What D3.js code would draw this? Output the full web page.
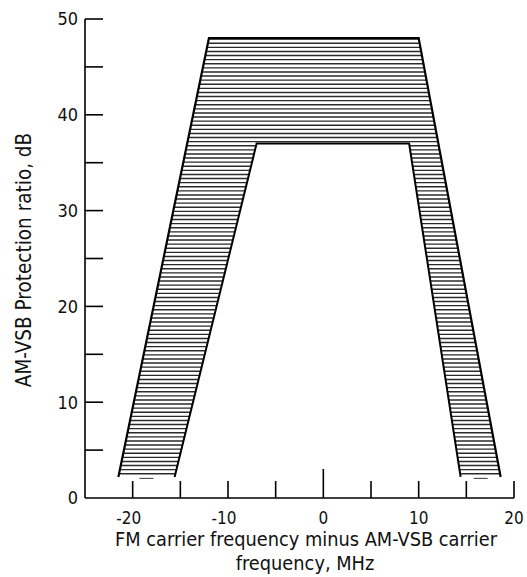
<!DOCTYPE html>
<html>
<head>
<meta charset="utf-8">
<script src="https://cdn.jsdelivr.net/npm/d3@7"></script>
<style>
  body { margin: 0; background: #fff; }
  text { font-family: "Liberation Sans Narrow", "DejaVu Sans Condensed", "Roboto Condensed", sans-serif; font-stretch: condensed; fill: #111; }
</style>
</head>
<body>
<svg id="chart"></svg>
<script>
// protection ratio band (outer and inner edges), MHz / dB
const outerX = [-21.5, -12, 10, 18.6];
const outerY = [2.2, 48, 48, 2.2];
const innerX = [-15.6, -7, 9, 14.4];
const innerY = [2.2, 37, 37, 2.2];

const xTicks = [-20, -15, -10, -5, 0, 5, 10, 15, 20];
const xTickLabels = [-20, -10, 0, 10, 20];
const yTicks = [5, 10, 15, 20, 25, 30, 35, 40, 45, 50];
const yTickLabels = [0, 10, 20, 30, 40, 50];

const width = 527, height = 577;
const margin = {top: 19, right: 13, bottom: 79, left: 85};

const svg = d3.select('#chart')
      .attr('width', width)
      .attr('height', height);

const xscale = d3.scaleLinear()
      .domain([-25, 20])
      .range([margin.left, width - margin.right]);

const yscale = d3.scaleLinear()
      .domain([0, 50])
      .range([height - margin.bottom, margin.top]);

const outer = outerX.map((x, i) => [xscale(x), yscale(outerY[i])]);
const inner = innerX.map((x, i) => [xscale(x), yscale(innerY[i])]);

// clip region = outer polygon minus inner polygon
const band = 'M' + outer.join('L') + 'Z M' + inner.join('L') + 'Z';
svg.append('defs').append('clipPath')
      .attr('id', 'band')
      .append('path')
      .attr('d', band)
      .attr('clip-rule', 'evenodd');

// horizontal hatching
const y0 = yscale(d3.max(outerY)), y1 = yscale(d3.min(outerY));
svg.append('g')
      .attr('clip-path', 'url(#band)')
      .selectAll('line')
      .data(d3.range(y0 + 1, y1 + 0.5, 4.1))
      .join('line')
      .attr('x1', margin.left)
      .attr('x2', width - margin.right)
      .attr('y1', d => d)
      .attr('y2', d => d)
      .attr('stroke', '#2a2a2a')
      .attr('stroke-width', 1.4);

// band edges
const line = d3.line();
svg.append('path')
      .attr('d', line(outer))
      .attr('fill', 'none')
      .attr('stroke', '#000')
      .attr('stroke-width', 2.2);
svg.append('path')
      .attr('d', line(inner))
      .attr('fill', 'none')
      .attr('stroke', '#000')
      .attr('stroke-width', 2);

// faint bottom dashes of the band
[[outer[0], inner[0]], [inner[3], outer[3]]].forEach(([a, b]) => {
      const m = (a[0] + b[0]) / 2;
      svg.append('line')
            .attr('x1', m - 7).attr('x2', m + 7)
            .attr('y1', a[1] + 1.5).attr('y2', a[1] + 1.5)
            .attr('stroke', '#555')
            .attr('stroke-width', 1.2);
});

// axes
const axis = svg.append('g').attr('stroke', '#000').attr('stroke-width', 1.6);
axis.append('line')
      .attr('x1', xscale(-25)).attr('x2', xscale(-25))
      .attr('y1', yscale(0)).attr('y2', yscale(50));
axis.append('line')
      .attr('x1', xscale(-25)).attr('x2', xscale(20))
      .attr('y1', yscale(0)).attr('y2', yscale(0));

axis.selectAll('.yt')
      .data(yTicks)
      .join('line')
      .attr('x1', xscale(-25)).attr('x2', xscale(-25) + 18)
      .attr('y1', d => yscale(d)).attr('y2', d => yscale(d));

axis.selectAll('.xt')
      .data(xTicks)
      .join('line')
      .attr('x1', d => xscale(d)).attr('x2', d => xscale(d))
      .attr('y1', yscale(0))
      .attr('y2', d => yscale(0) - (d === 0 ? 29 : 17));

svg.append('g')
      .selectAll('text')
      .data(yTickLabels)
      .join('text')
      .attr('x', xscale(-25) - 7)
      .attr('y', d => yscale(d))
      .attr('dy', '0.36em')
      .attr('text-anchor', 'end')
      .style('font-size', '18px')
      .text(d => d);

svg.append('g')
      .selectAll('text')
      .data(xTickLabels)
      .join('text')
      .attr('x', d => xscale(d) - (d < 0 ? 4 : 0))
      .attr('y', yscale(0) + 26)
      .attr('text-anchor', 'middle')
      .style('font-size', '17px')
      .text(d => d < 0 ? '-' + Math.abs(d) : d);

// axis titles
const xlabel = svg.append('text')
      .attr('x', 306)
      .attr('text-anchor', 'middle')
      .style('font-size', '19.8px');
xlabel.append('tspan').attr('x', 306).attr('y', 546).text('FM carrier frequency minus AM-VSB carrier');
xlabel.append('tspan').attr('x', 305).attr('y', 570).text('frequency,  MHz');

svg.append('text')
      .attr('transform', `translate(31, ${260}) rotate(-90)`)
      .attr('text-anchor', 'middle')
      .style('font-size', '20.5px')
      .text('AM-VSB Protection ratio,  dB');
</script>
</body>
</html>
